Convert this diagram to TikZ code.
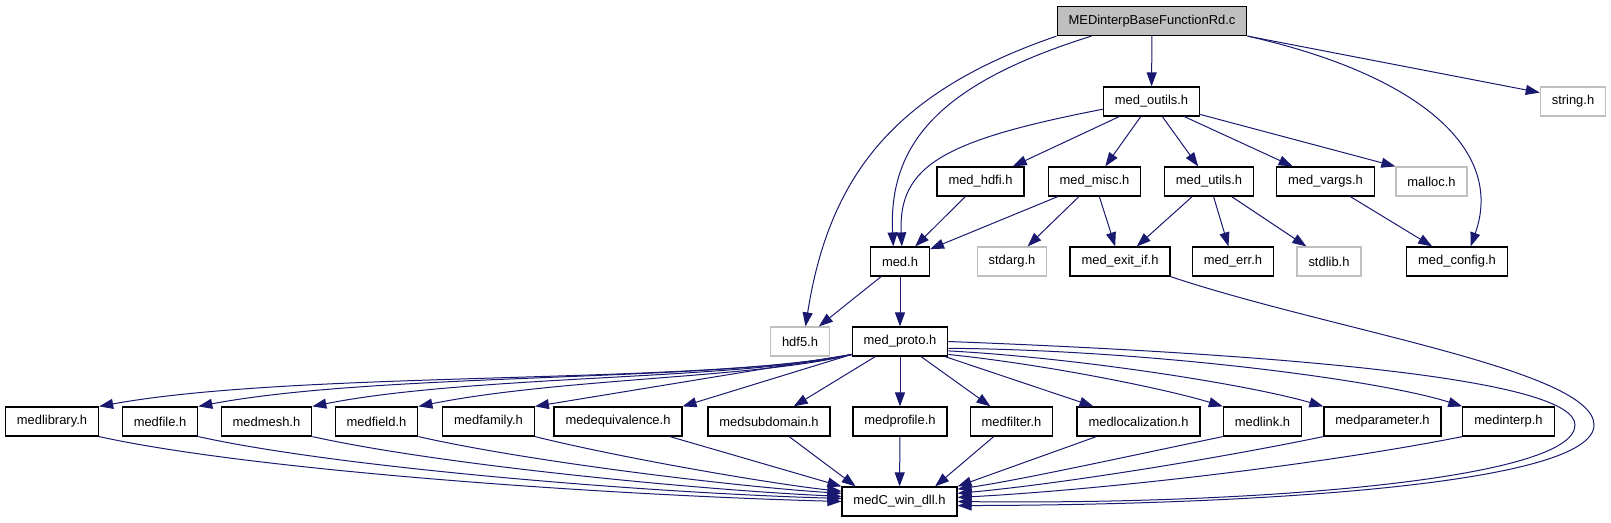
\documentclass[tikz,border=0pt]{standalone}
\usepackage{fontspec}
\setmainfont{Liberation Sans}
\usepackage{tikz}
\usetikzlibrary{arrows.meta}
\definecolor{EdgeBlue}{HTML}{191970}
\definecolor{SysGray}{HTML}{BFBFBF}
\definecolor{RootFill}{HTML}{BFBFBF}
\tikzset{
  % Base header box
  HB/.style={rectangle,draw=black,line width=0.9pt,fill=white,
             inner xsep=8.6pt,inner ysep=0pt,minimum height=21.75pt,
             font=\fontsize{9.7}{11}\selectfont},
  % Variants
  hS/.style={HB,draw=SysGray},
  hR/.style={HB,fill=RootFill},
  % Include arrow
  dep/.style={-{Triangle[length=10.5pt,width=7.5pt]},line width=0.75pt,color=EdgeBlue}
}
\begin{document}
\begin{tikzpicture}[x=0.75pt,y=-0.75pt]
  \useasboundingbox (0,0) rectangle (1611,523);
  \node[hR] (root)   at (1152,21)     {MEDinterpBaseFunctionRd.c};
  \node[HB] (outils) at (1151.5,101.5) {med\_outils.h};
  \node[hS] (string) at (1573,101.5)  {string.h};
  \node[HB] (hdfi)   at (980.5,181.5) {med\_hdfi.h};
  \node[HB] (misc)   at (1094.5,181.5) {med\_misc.h};
  \node[HB] (utils)  at (1209,181.5)  {med\_utils.h};
  \node[HB] (vargs)  at (1325.5,181.5) {med\_vargs.h};
  \node[hS] (malloc) at (1431.5,181.5) {malloc.h};
  \node[HB] (med)    at (900,261.5)   {med.h};
  \node[hS] (stdarg) at (1012,261.5)  {stdarg.h};
  \node[HB] (exitif) at (1120,261.5)  {med\_exit\_if.h};
  \node[HB] (err)    at (1233,261.5)  {med\_err.h};
  \node[hS] (stdlib) at (1329,261.5)  {stdlib.h};
  \node[HB] (config) at (1457,261.5)  {med\_config.h};
  \node[hS] (hdf5)   at (800,341.5)   {hdf5.h};
  \node[HB] (proto)  at (900,341.5)   {med\_proto.h};
  \node[HB] (library) at (52,421.5)   {medlibrary.h};
  \node[HB] (file)    at (160,421.5)  {medfile.h};
  \node[HB] (mesh)    at (266.5,421.5) {medmesh.h};
  \node[HB] (field)   at (376.5,421.5) {medfield.h};
  \node[HB] (family)  at (488.5,421.5) {medfamily.h};
  \node[HB] (equiv)   at (618,421.5)  {medequivalence.h};
  \node[HB] (subdom)  at (769,421.5)  {medsubdomain.h};
  \node[HB] (profile) at (900,421.5)  {medprofile.h};
  \node[HB] (filter)  at (1011.5,421.5) {medfilter.h};
  \node[HB] (localiz) at (1138.5,421.5) {medlocalization.h};
  \node[HB] (link)    at (1262.5,421.5) {medlink.h};
  \node[HB] (param)   at (1382.5,421.5) {medparameter.h};
  \node[HB] (interp)  at (1508.5,421.5) {medinterp.h};
  \node[HB] (dll)     at (899.5,501.5) {medC\_win\_dll.h};

  % root file
  \draw[dep] (root) -- (outils);
  \draw[dep] (root.south west) .. controls (900,90) and (830,170) .. (hdf5.70);
  \draw[dep] (root.194) .. controls (945,82) and (888,140) .. (med.114);
  \draw[dep] (root.south east) .. controls (1420,75) and (1505,150) .. (config.48);
  \draw[dep] (root.south east) -- (string.165);

  % med_outils.h
  \draw[dep] (outils.189) .. controls (945,140) and (898,165) .. (med.83);
  \draw[dep] (outils) -- (hdfi);
  \draw[dep] (outils) -- (misc);
  \draw[dep] (outils) -- (utils);
  \draw[dep] (outils) -- (vargs);
  \draw[dep] (outils) -- (malloc.north west);

  % second row
  \draw[dep] (hdfi) -- (med);
  \draw[dep] (misc) -- (med);
  \draw[dep] (misc) -- (stdarg);
  \draw[dep] (misc) -- (exitif);
  \draw[dep] (utils) -- (exitif);
  \draw[dep] (utils) -- (err);
  \draw[dep] (utils) -- (stdlib);
  \draw[dep] (vargs) -- (config);

  % med.h and med_exit_if.h
  \draw[dep] (med) -- (hdf5);
  \draw[dep] (med) -- (proto);
  \draw[dep] (exitif.south east) .. controls (1330,330) and (1594,370) .. (1594,425)
             .. controls (1594,485) and (1250,505) .. (dll.-4);

  % med_proto.h
  \draw[dep] (proto.195) .. controls (700,385) and (300,370) .. (library.north east);
  \draw[dep] (proto.195) .. controls (720,382) and (380,372) .. (file.north east);
  \draw[dep] (proto.195) .. controls (740,380) and (470,375) .. (mesh.north east);
  \draw[dep] (proto.195) .. controls (760,378) and (560,378) .. (field.north east);
  \draw[dep] (proto.195) -- (family.north east);
  \draw[dep] (proto.195) -- (equiv.north east);
  \draw[dep] (proto) -- (subdom);
  \draw[dep] (proto) -- (profile);
  \draw[dep] (proto) -- (filter);
  \draw[dep] (proto) -- (localiz);
  \draw[dep] (proto.-15) .. controls (1050,365) and (1170,390) .. (link.north west);
  \draw[dep] (proto.-11) .. controls (1080,358) and (1250,385) .. (param.north west);
  \draw[dep] (proto.-8) .. controls (1150,350) and (1380,380) .. (interp.north west);
  \draw[dep] (proto.east) .. controls (1300,355) and (1575,380) .. (1575,425)
             .. controls (1575,480) and (1250,505) .. (dll.0);

  % bottom row
  \draw[dep] (library.south east) .. controls (250,470) and (600,495) .. (dll.180);
  \draw[dep] (file.south east) .. controls (340,468) and (650,493) .. (dll.177);
  \draw[dep] (mesh.south east) .. controls (440,465) and (700,490) .. (dll.175);
  \draw[dep] (field.south east) .. controls (530,462) and (740,487) .. (dll.172);
  \draw[dep] (family.south east) .. controls (630,460) and (780,485) .. (dll.170);
  \draw[dep] (equiv) -- (dll.north west);
  \draw[dep] (subdom) -- (dll.161);
  \draw[dep] (profile) -- (dll);
  \draw[dep] (filter) -- (dll.23);
  \draw[dep] (localiz) -- (dll.north east);
  \draw[dep] (link.south west) .. controls (1120,458) and (1020,480) .. (dll.12);
  \draw[dep] (param.south west) .. controls (1200,462) and (1050,485) .. (dll.8);
  \draw[dep] (interp.south west) .. controls (1320,465) and (1100,490) .. (dll.4);
\end{tikzpicture}
\end{document}
